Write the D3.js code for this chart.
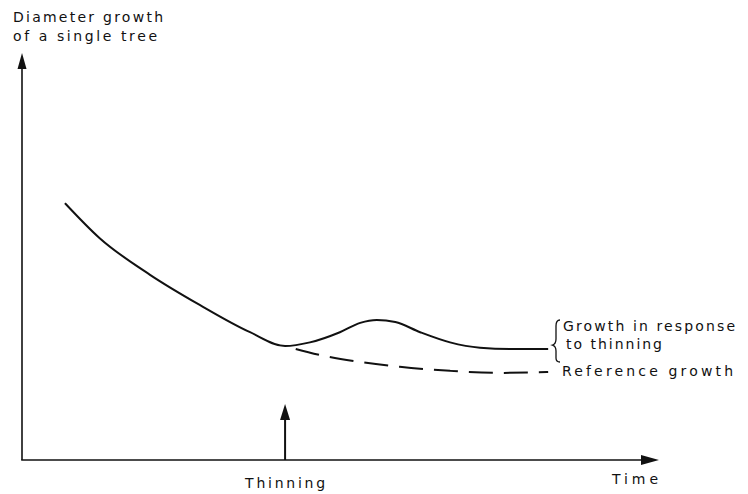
<!DOCTYPE html>
<html><head><meta charset="utf-8">
<script src="https://cdn.jsdelivr.net/npm/d3@7/dist/d3.min.js"></script>
<style>
body{margin:0;background:#fff;}
text{font-family:"DejaVu Sans",sans-serif;fill:#111;font-size:14px;}
</style></head><body>
<svg id="c" width="748" height="494"></svg>
<script>
// Data (arbitrary units: time 0..100, growth 0..100)
const responseTime   = [6.75, 12.2, 20.1, 27.9, 35.8, 41.3, 45.2, 49.9, 53.1, 55.7, 58.6, 62.5, 67.2, 71.9, 76.6, 82.6];
const responseGrowth = [63.1, 54.5, 45.5, 38.1, 31.4, 28.0, 28.9, 31.4, 33.7, 34.4, 33.9, 31.4, 28.9, 27.6, 27.3, 27.3];
const referenceTime   = [41.3, 46.8, 53.1, 59.3, 67.2, 75.0, 82.6];
const referenceGrowth = [28.0, 25.8, 24.1, 22.9, 21.9, 21.4, 21.6];
const thinningTime = 41.3;
const yTitle = ["Diameter growth", "of a single tree"];
const xTitle = "Time";
const thinningLabel = "Thinning";
const responseLabel = ["Growth in response", "to thinning"];
const referenceLabel = "Reference growth";

const svg = d3.select("#c");
const x = d3.scaleLinear().domain([0,100]).range([22,659]);
const y = d3.scaleLinear().domain([0,100]).range([460,53]);

// axes
svg.append("line").attr("x1",x(0)).attr("y1",y(0)).attr("x2",x(0)).attr("y2",y(100)+12)
  .attr("stroke","#111").attr("stroke-width",1.6);
svg.append("line").attr("x1",x(0)-0.8).attr("y1",y(0)).attr("x2",x(100)-14).attr("y2",y(0))
  .attr("stroke","#111").attr("stroke-width",1.6);
svg.append("path").attr("d",`M${x(0)},${y(100)} L${x(0)-4.5},${y(100)+16} L${x(0)+4.5},${y(100)+16} Z`).attr("fill","#111");
svg.append("path").attr("d",`M${x(100)},${y(0)} L${x(100)-18},${y(0)-5} L${x(100)-18},${y(0)+5} Z`).attr("fill","#111");

// thinning arrow
const tx = x(thinningTime);
svg.append("line").attr("x1",tx).attr("y1",y(0)).attr("x2",tx).attr("y2",y(0)-44)
  .attr("stroke","#111").attr("stroke-width",2);
svg.append("path").attr("d",`M${tx},${y(0)-56} L${tx-5},${y(0)-40} L${tx+5},${y(0)-40} Z`).attr("fill","#111");

const line = d3.line().x(d=>x(d[0])).y(d=>y(d[1])).curve(d3.curveMonotoneX);
svg.append("path").datum(responseTime.map((t,i)=>[t,responseGrowth[i]]))
  .attr("d",line).attr("fill","none").attr("stroke","#111").attr("stroke-width",2);
svg.append("path").datum(referenceTime.map((t,i)=>[t,referenceGrowth[i]]))
  .attr("d",line).attr("fill","none").attr("stroke","#111").attr("stroke-width",2)
  .attr("stroke-dasharray","24,11").attr("stroke-dashoffset",-11);

// texts
function label(str, xx, yy, len, anchor){
  return svg.append("text").attr("x",xx).attr("y",yy)
    .attr("text-anchor",anchor||"start")
    .attr("textLength",len).attr("lengthAdjust","spacing").text(str);
}
label(yTitle[0], 13, 22, 150);
label(yTitle[1], 13, 41, 144);
label(xTitle, 612, 484, 46);
label(thinningLabel, tx-40, 488, 80);
label(responseLabel[0], 563, 331, 172);
label(responseLabel[1], 566, 349, 96);
label(referenceLabel, 562, 376, 171);

// brace
const bx = 556;
svg.append("path")
  .attr("d",`M${bx+4},320 Q${bx},320 ${bx},326 L${bx},339 Q${bx},344 ${bx-3.5},345 Q${bx},346 ${bx},351 L${bx},358 Q${bx},362 ${bx+4},362`)
  .attr("fill","none").attr("stroke","#111").attr("stroke-width",1.3);
</script></body></html>
